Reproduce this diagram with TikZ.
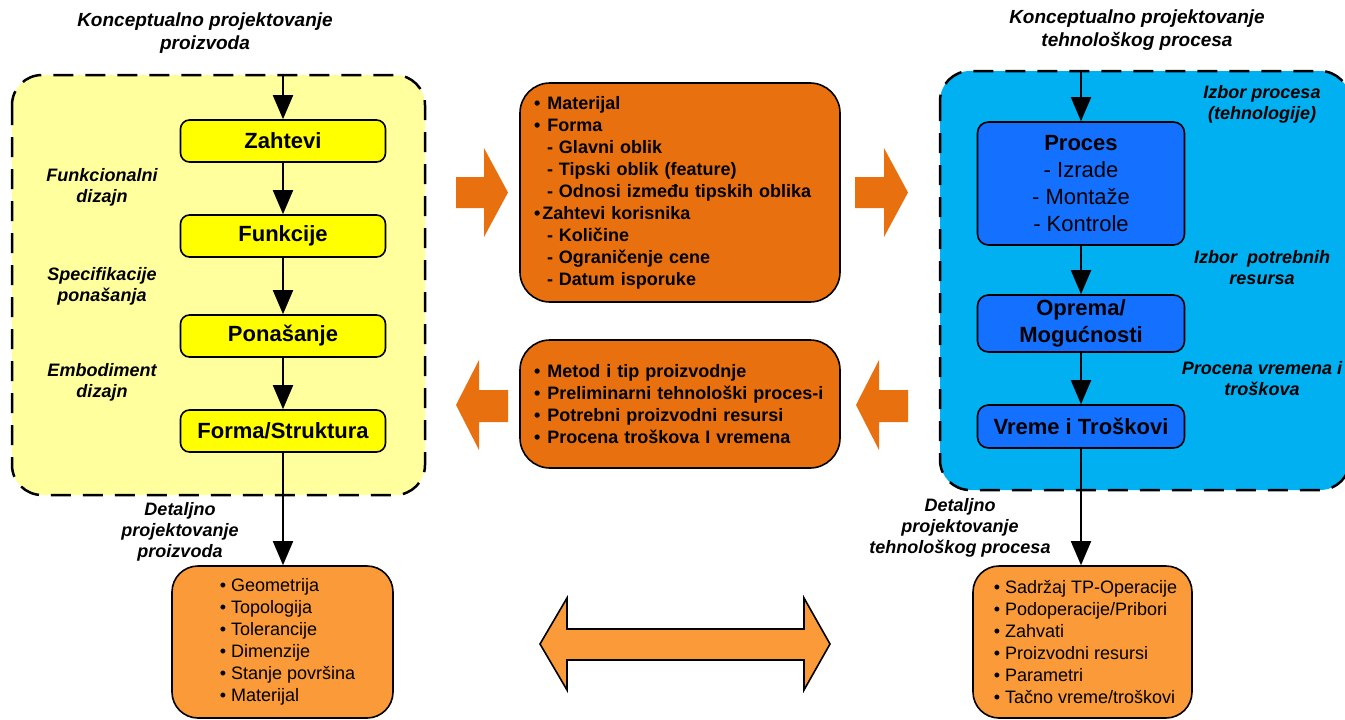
\documentclass[tikz,border=0pt]{standalone}
\usepackage{fontspec}
\setmainfont{Liberation Sans}
\usetikzlibrary{arrows.meta}
\definecolor{prodbg}{HTML}{FFFF9E}
\definecolor{stepyellow}{HTML}{FFFF00}
\definecolor{procbg}{HTML}{00B0F0}
\definecolor{stepblue}{HTML}{1470FF}
\definecolor{infoorange}{HTML}{E8700E}
\definecolor{detailorange}{HTML}{FA9A38}
\newcommand{\bul}{\textbullet\hspace{7pt}}
\newcommand{\sub}{\hspace*{13pt}- }

\tikzset{
  flow/.style={-{Triangle[length=24pt,width=20pt]}, line width=1.8pt},
  frame/.style={line width=2.5pt, dash pattern=on 20pt off 12pt, rounded corners=30pt},
  ybox/.style={draw, line width=1.6pt, rounded corners=9pt, fill=stepyellow,
    minimum width=205pt, minimum height=42pt, font=\bfseries\fontsize{22}{26}\selectfont},
  bbox/.style={draw, line width=1.6pt, rounded corners=11pt, fill=stepblue,
    minimum width=207pt, align=center, font=\fontsize{22}{27}\selectfont},
  infobox/.style={draw, line width=1.6pt, rounded corners=30pt, fill=infoorange,
    text width=292pt, inner xsep=14pt, align=left, font=\bfseries\fontsize{18}{22}\selectfont},
  detailbox/.style={draw, line width=1.6pt, rounded corners=26pt, fill=detailorange,
    align=left, font=\fontsize{18}{22}\selectfont},
  sidelabel/.style={align=center, font=\bfseries\itshape\fontsize{18}{21}\selectfont},
  headlabel/.style={align=center, font=\bfseries\itshape\fontsize{19}{23}\selectfont}
}

\begin{document}
\begin{tikzpicture}[x=1pt, y=-1pt]
  \useasboundingbox (0,0) rectangle (1345,720);

  % === PRODUCT DESIGN ===
  \filldraw[prodbg, draw=black, frame] (12,75) rectangle (425,495);
  \node[headlabel] (prodtitle) at (205,33) {Konceptualno projektovanje\\proizvoda};

  \coordinate (prodin) at (283,75);
  \node[ybox] (zahtevi)  at (283,141) {Zahtevi};
  \node[ybox] (funkcije) at (283,236) {Funkcije};
  \node[ybox] (ponasanje) at (283,336) {Ponašanje};
  \node[ybox] (forma)    at (283,431) {Forma/Struktura};

  \node[sidelabel] (funlabel) at (102,187) {Funkcionalni\\dizajn};
  \node[sidelabel] (speclabel) at (102,286) {Specifikacije\\ponašanja};
  \node[sidelabel] (emblabel) at (102,382) {Embodiment\\dizajn};

  \draw[flow] (prodin) -- (zahtevi);
  \draw[flow] (zahtevi) -- (funkcije);
  \draw[flow] (funkcije) -- (ponasanje);
  \draw[flow] (ponasanje) -- (forma);

  % === PROCESS DESIGN ===
  \filldraw[procbg, draw=black, frame] (940,71) rectangle (1350,490);
  \node[headlabel] (proctitle) at (1137,30) {Konceptualno projektovanje\\tehnološkog procesa};

  \coordinate (procin) at (1081,71);
  \node[bbox, minimum height=123pt] (proces) at (1081,183.5)
    {\textbf{Proces}\\- Izrade\\- Montaže\\- Kontrole};
  \node[bbox, minimum height=57pt, font=\bfseries\fontsize{22}{27}\selectfont] (oprema) at (1081,323.5)
    {Oprema/\\Mogućnosti};
  \node[bbox, minimum height=43pt, font=\bfseries\fontsize{22}{27}\selectfont] (vreme) at (1081,426.5)
    {Vreme i Troškovi};

  \node[sidelabel] (izborlabel) at (1262,104) {Izbor procesa\\(tehnologije)};
  \node[sidelabel] (resurslabel) at (1262,268) {Izbor\ \ potrebnih\\resursa};
  \node[sidelabel] (cenalabel) at (1262,379) {Procena vremena i\\troškova};

  \draw[flow] (procin) -- (proces);
  \draw[flow] (proces) -- (oprema);
  \draw[flow] (oprema) -- (vreme);

  % === INFORMATION EXCHANGE ===
  \node[infobox, minimum height=219pt] (info) at (680,192.5) {%
    \bul Materijal\\
    \bul Forma\\
    \sub Glavni oblik\\
    \sub Tipski oblik (feature)\\
    \sub Odnosi između tipskih oblika\\
    \textbullet\hspace{2pt}Zahtevi korisnika\\
    \sub Količine\\
    \sub Ograničenje cene\\
    \sub Datum isporuke};
  \node[infobox, minimum height=128pt] (feedback) at (680,404) {%
    \bul Metod i tip proizvodnje\\
    \bul Preliminarni tehnološki proces-i\\
    \bul Potrebni proizvodni resursi\\
    \bul Procena troškova I vremena};

  \fill[infoorange] (456,177) -- (484,177) -- (484,148) -- (508,192.5) -- (484,237) -- (484,208) -- (456,208) -- cycle;
  \fill[infoorange] (855,177) -- (884,177) -- (884,148) -- (908,192.5) -- (884,237) -- (884,208) -- (855,208) -- cycle;
  \fill[infoorange] (508,390) -- (479,390) -- (479,360) -- (456,405) -- (479,450) -- (479,422) -- (508,422) -- cycle;
  \fill[infoorange] (908,390) -- (879,390) -- (879,360) -- (856,405) -- (879,450) -- (879,422) -- (908,422) -- cycle;

  % === DETAILED DESIGN ===
  \node[detailbox, minimum width=221pt, minimum height=152pt] (detprod) at (282.5,642) {%
    \hspace*{10pt}\textbullet\ Geometrija\\
    \hspace*{10pt}\textbullet\ Topologija\\
    \hspace*{10pt}\textbullet\ Tolerancije\\
    \hspace*{10pt}\textbullet\ Dimenzije\\
    \hspace*{10pt}\textbullet\ Stanje površina\\
    \hspace*{10pt}\textbullet\ Materijal};
  \node[detailbox, minimum width=219pt, minimum height=152pt] (detproc) at (1082.5,642) {%
    \hspace*{6pt}\textbullet\ Sadržaj TP-Operacije\\
    \hspace*{6pt}\textbullet\ Podoperacije/Pribori\\
    \hspace*{6pt}\textbullet\ Zahvati\\
    \hspace*{6pt}\textbullet\ Proizvodni resursi\\
    \hspace*{6pt}\textbullet\ Parametri\\
    \hspace*{6pt}\textbullet\ Tačno vreme/troškovi};

  \node[sidelabel] (detprodlabel) at (180,532) {Detaljno\\projektovanje\\proizvoda};
  \node[sidelabel] (detproclabel) at (960,528) {Detaljno\\projektovanje\\tehnološkog procesa};

  \draw[flow] (forma) -- (forma.south |- detprod.north);
  \draw[flow] (vreme) -- (vreme.south |- detproc.north);

  \filldraw[detailorange, draw=black, line width=1.6pt, line join=miter]
    (540,644) -- (567,598) -- (567,629) -- (804,629) -- (804,598) -- (830,644)
    -- (804,690) -- (804,660) -- (567,660) -- (567,690) -- cycle;
\end{tikzpicture}
\end{document}
